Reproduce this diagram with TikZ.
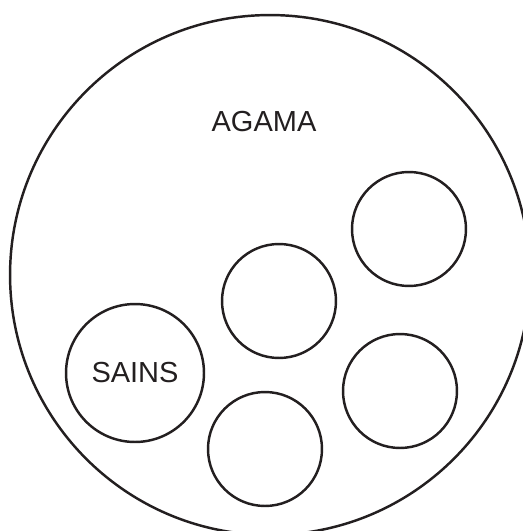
\documentclass[tikz,border=0pt]{standalone}
\usepackage{fontspec}
\setmainfont{Liberation Sans}
\usetikzlibrary{positioning}
\definecolor{ink}{RGB}{35,31,32}
\tikzset{
  ring/.style={circle,draw=ink,line width=1.4pt,inner sep=0pt,minimum size=#1},
  ring/.default=2.28cm,
  tag/.style={font=\fontsize{16.5}{18}\selectfont,text=ink,inner sep=0pt},
}
\begin{document}
\begin{tikzpicture}[x=0.02cm,y=0.02cm]
  \useasboundingbox (0,0) rectangle (523,-531);
  \clip (0,0) rectangle (523,-531);
  % outer set
  \node[ring=10.4cm] (semesta) at (270,-275) {};
  \node[tag] (agama) at (264,-122) {AGAMA};
  % inner sets
  \node[ring=2.76cm,tag] (sains) at (135,-373) {SAINS};
  \node[ring] (a) at (409,-229) {};
  \node[ring] (b) at (279,-301) {};
  \node[ring] (c) at (400,-391) {};
  \node[ring] (d) at (265,-449) {};
\end{tikzpicture}
\end{document}
